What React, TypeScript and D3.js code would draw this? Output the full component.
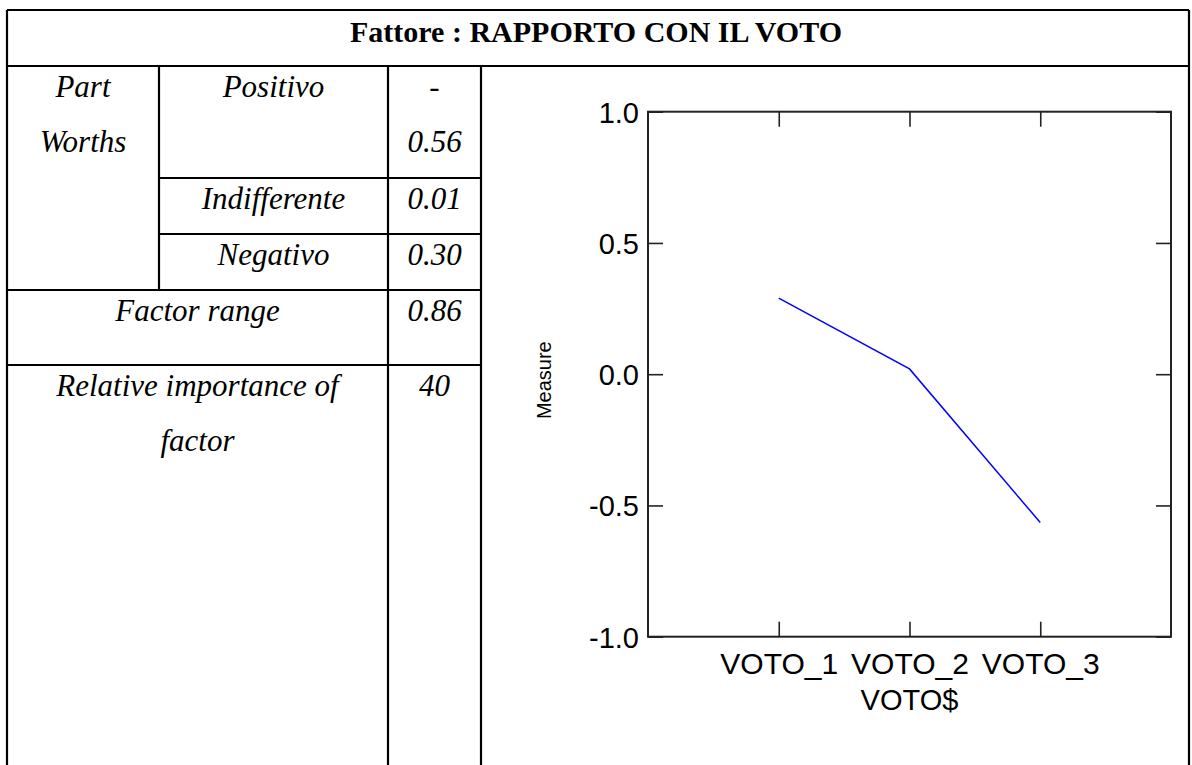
import React, { useEffect, useRef } from "react";
import * as d3 from "d3";

// ---- data ----
const title = "Fattore : RAPPORTO CON IL VOTO";
const levels = ["Positivo", "Indifferente", "Negativo"];
const levelValues = ["-\n0.56", "0.01", "0.30"];
const factorRange = "0.86";
const relativeImportance = "40";
const categories = ["VOTO_1", "VOTO_2", "VOTO_3"];
const measure = [0.29, 0.02, -0.565];
const yTicks = [-1.0, -0.5, 0.0, 0.5, 1.0];
const xAxisTitle = "VOTO$";
const yAxisTitle = "Measure";

const W = 1192;
const H = 765;

export default function App() {
  const ref = useRef<SVGSVGElement | null>(null);

  useEffect(() => {
    const svg = d3.select(ref.current);
    svg.selectAll("*").remove();

    const serif = "'Liberation Serif', 'Times New Roman', serif";
    const sans = "'Liberation Sans', Arial, sans-serif";
    const fs = 31;

    // ---- table geometry ----
    const L = 7, R = 1189, T = 10;
    const c1 = 159, c2 = 388, c3 = 481;
    const rTitle = 66, rPos = 178, rInd = 234, rNeg = 290, rFac = 365;
    const B = H + 10;

    const tbl = svg.append("g").attr("stroke", "#000").attr("stroke-width", 2.2).attr("fill", "none");
    const line = (x1: number, y1: number, x2: number, y2: number) =>
      tbl.append("line").attr("x1", x1).attr("y1", y1).attr("x2", x2).attr("y2", y2);
    line(L, T, R, T);
    line(L, T, L, B);
    line(R, T, R, B);
    line(L, rTitle, R, rTitle);
    line(c1, rTitle, c1, rNeg);
    line(c2, rTitle, c2, B);
    line(c3, rTitle, c3, B);
    line(c1, rPos, c3, rPos);
    line(c1, rInd, c3, rInd);
    line(L, rNeg, c3, rNeg);
    line(L, rFac, c3, rFac);

    const txt = (s: string, x: number, y: number, opts: any = {}) =>
      svg
        .append("text")
        .attr("x", x)
        .attr("y", y)
        .attr("text-anchor", opts.anchor || "middle")
        .attr("font-family", opts.family || serif)
        .attr("font-size", opts.size || fs)
        .attr("font-style", opts.style || "italic")
        .attr("font-weight", opts.weight || "normal")
        .attr("fill", "#000")
        .text(s);

    const base = 31;
    const lh = 55;
    txt(title, 596, T + base + 1, { style: "normal", weight: "bold", size: 30 });

    txt("Part", (L + c1) / 2, rTitle + base);
    txt("Worths", (L + c1) / 2, rTitle + base + lh);
    const rowTop = [rTitle, rPos, rInd];
    levels.forEach((lv, i) => {
      const y0 = rowTop[i] + base;
      txt(lv, (c1 + c2) / 2, y0);
      const parts = levelValues[i].split("\n");
      parts.forEach((p, j) => txt(p, (c2 + c3) / 2, y0 + j * lh));
    });
    txt("Factor range", (L + c2) / 2, rNeg + base);
    txt(factorRange, (c2 + c3) / 2, rNeg + base);
    txt("Relative importance of", (L + c2) / 2, rFac + base);
    txt("factor", (L + c2) / 2, rFac + base + lh);
    txt(relativeImportance, (c2 + c3) / 2, rFac + base);

    // ---- chart ----
    const x = d3.scaleLinear().domain([0, categories.length + 1]).range([648, 1171]);
    const y = d3.scaleLinear().domain([-1, 1]).range([636.7, 111.7]);
    const tickLen = 15;
    const xt = categories.map((_, i) => i + 1);
    const fmt = (d: any) => d3.format(".1f")(d).replace("\u2212", "-");
    const cfs = 29;

    const g = svg.append("g");
    g.append("rect")
      .attr("x", x.range()[0])
      .attr("y", y.range()[1])
      .attr("width", x.range()[1] - x.range()[0])
      .attr("height", y.range()[0] - y.range()[1])
      .attr("fill", "none")
      .attr("stroke", "#222")
      .attr("stroke-width", 2);

    const axBottom = d3.axisBottom(x).tickValues(xt).tickSize(-tickLen).tickFormat((d: any) => categories[d - 1]);
    const gb = g.append("g").attr("transform", `translate(0,${y(-1)})`).call(axBottom as any);
    const axTop = d3.axisTop(x).tickValues(xt).tickSize(-tickLen).tickFormat(() => "");
    const gt = g.append("g").attr("transform", `translate(0,${y(1)})`).call(axTop as any);
    const axLeft = d3.axisLeft(y).tickValues(yTicks).tickSize(-tickLen).tickFormat(fmt as any);
    const gl = g.append("g").attr("transform", `translate(${x(0)},0)`).call(axLeft as any);
    const axRight = d3.axisRight(y).tickValues(yTicks).tickSize(-tickLen).tickFormat(() => "");
    const gr = g.append("g").attr("transform", `translate(${x(4)},0)`).call(axRight as any);

    [gb, gt, gl, gr].forEach((a) => {
      a.select(".domain").remove();
      a.selectAll(".tick line").attr("stroke", "#222").attr("stroke-width", 1.6);
      a.selectAll("text").attr("font-family", sans).attr("font-size", cfs).attr("fill", "#000");
    });
    gb.selectAll(".tick text").attr("dy", null).attr("y", 37).attr("font-size", 30);
    gl.selectAll(".tick text").attr("x", -9).attr("dy", "0.36em");

    txt(xAxisTitle, x(2), 710, { family: sans, style: "normal", size: cfs });
    svg
      .append("text")
      .attr("transform", `translate(551,${y(0) + 6}) rotate(-90)`)
      .attr("text-anchor", "middle")
      .attr("font-family", sans)
      .attr("font-size", 20)
      .text(yAxisTitle);

    const lineGen = d3
      .line<number>()
      .x((_, i) => x(i + 1))
      .y((d) => y(d));
    g.append("path")
      .datum(measure)
      .attr("d", lineGen as any)
      .attr("fill", "none")
      .attr("stroke", "#0000ff")
      .attr("stroke-width", 1.5);
  }, []);

  return (
    <svg
      ref={ref}
      width={W}
      height={H}
      style={{ display: "block", position: "absolute", left: 0, top: 0, background: "#fff" }}
    />
  );
}
